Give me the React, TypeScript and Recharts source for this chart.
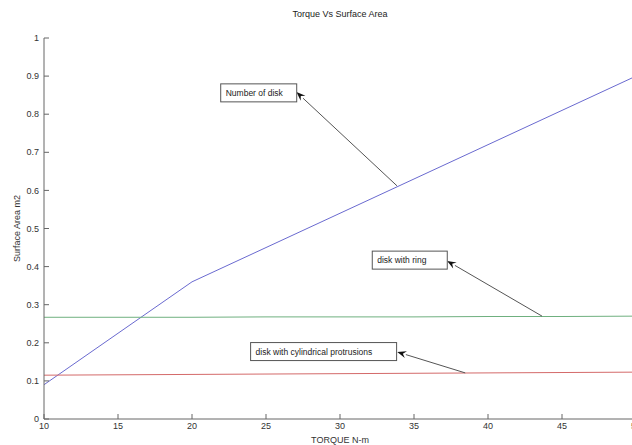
import React from "react";
import {
  LineChart,
  Line,
  XAxis,
  YAxis,
  ReferenceLine,
  ReferenceDot,
} from "recharts";

const torque = [10, 15, 20, 25, 30, 35, 40, 45, 50];
const numberOfDisk = [0.09, 0.225, 0.36, 0.45, 0.54, 0.63, 0.72, 0.81, 0.9];
const diskWithRing = [0.267, 0.267, 0.267, 0.268, 0.268, 0.268, 0.269, 0.269, 0.27];
const diskWithProtrusions = [0.115, 0.116, 0.117, 0.118, 0.119, 0.12, 0.121, 0.122, 0.123];

const xTicks = [10, 15, 20, 25, 30, 35, 40, 45, 50];
const yTicks = [0, 0.1, 0.2, 0.3, 0.4, 0.5, 0.6, 0.7, 0.8, 0.9, 1];

// text boxes with arrows pointing at the curves
const notes = [
  { text: "Number of disk", boxX: 21.94, boxY: 0.856, boxW: 76, fromX: 33.85, fromY: 0.612, toX: 27.06, toY: 0.858 },
  { text: "disk with ring", boxX: 32.18, boxY: 0.417, boxW: 75, fromX: 43.65, fromY: 0.27, toX: 37.24, toY: 0.415 },
  { text: "disk with cylindrical protrusions", boxX: 23.96, boxY: 0.177, boxW: 146, fromX: 38.46, fromY: 0.121, toX: 33.87, toY: 0.176 },
];

const data = torque.map((t, i) => ({
  torque: t,
  disk: numberOfDisk[i],
  ring: diskWithRing[i],
  prot: diskWithProtrusions[i],
}));

const FONT = "'Liberation Sans', Arial, sans-serif";
const AXIS = "#666";

const Arrow = (props: any) => {
  const { x1, y1, x2, y2 } = props;
  const ang = Math.atan2(y2 - y1, x2 - x1);
  const len = 9;
  const w = 3.5;
  const bx = x2 - len * Math.cos(ang);
  const by = y2 - len * Math.sin(ang);
  const px = -Math.sin(ang) * w;
  const py = Math.cos(ang) * w;
  return (
    <g>
      <line x1={x1} y1={y1} x2={bx} y2={by} stroke="#555" strokeWidth={1} />
      <polygon
        points={`${x2},${y2} ${bx + px},${by + py} ${bx + 0.35 * (x2 - bx)},${by + 0.35 * (y2 - by)} ${bx - px},${by - py}`}
        fill="#111"
      />
    </g>
  );
};

const makeBox = (text: string, w: number) => (props: any) => {
  const { cx, cy } = props;
  return (
    <g>
      <rect x={cx} y={cy - 9} width={w} height={18} fill="#fff" stroke="#555" strokeWidth={1} />
      <text x={cx + 5} y={cy + 3} fontSize={8.5} fontFamily={FONT} fill="#222">
        {text}
      </text>
    </g>
  );
};

export default function App() {
  return (
    <div style={{ position: "fixed", left: 0, top: 0, width: 632, height: 445, overflow: "hidden", background: "#fff" }}>
      <div
        style={{
          position: "absolute",
          left: 0,
          width: 680,
          top: 9,
          textAlign: "center",
          fontFamily: FONT,
          fontSize: 9,
          color: "#222",
        }}
      >
        Torque Vs Surface Area
      </div>
      <LineChart width={650} height={445} data={data} margin={{ top: 38, right: 14, left: 14, bottom: 0 }}>
        <XAxis
          dataKey="torque"
          type="number"
          domain={[10, 50]}
          ticks={xTicks}
          height={26}
          stroke={AXIS}
          tickSize={-5}
          tickMargin={9}
          tick={{ fontSize: 9, fill: "#333", fontFamily: FONT }}
          label={{ value: "TORQUE N-m", position: "insideBottom", offset: 2, fontSize: 9, fill: "#333", fontFamily: FONT }}
        />
        <XAxis
          xAxisId="top"
          dataKey="torque"
          type="number"
          orientation="top"
          domain={[10, 50]}
          ticks={xTicks}
          height={0}
          stroke={AXIS}
          tickSize={-5}
          tick={() => <g />}
        />
        <YAxis
          type="number"
          domain={[0, 1]}
          ticks={yTicks}
          width={30}
          stroke={AXIS}
          tickSize={-5}
          tickMargin={10}
          tick={{ fontSize: 9, fill: "#333", fontFamily: FONT }}
          label={{ value: "Surface Area m2", angle: -90, position: "insideLeft", offset: 3, fontSize: 9, fill: "#333", fontFamily: FONT, style: { textAnchor: "middle" } }}
        />
        <YAxis
          yAxisId="right"
          type="number"
          orientation="right"
          domain={[0, 1]}
          ticks={yTicks}
          width={0}
          stroke={AXIS}
          tickSize={-5}
          tick={() => <g />}
        />
        <Line dataKey="disk" stroke="#6a6ad0" strokeWidth={1} dot={false} isAnimationActive={false} />
        <Line dataKey="ring" stroke="#6fb07f" strokeWidth={1} dot={false} isAnimationActive={false} />
        <Line dataKey="prot" stroke="#d46a6a" strokeWidth={1} dot={false} isAnimationActive={false} />
        {notes.map((n) => (
          <ReferenceLine
            key={`a-${n.text}`}
            segment={[
              { x: n.fromX, y: n.fromY },
              { x: n.toX, y: n.toY },
            ]}
            shape={Arrow}
          />
        ))}
        {notes.map((n) => (
          <ReferenceDot key={`b-${n.text}`} x={n.boxX} y={n.boxY} shape={makeBox(n.text, n.boxW)} />
        ))}
      </LineChart>
    </div>
  );
}
